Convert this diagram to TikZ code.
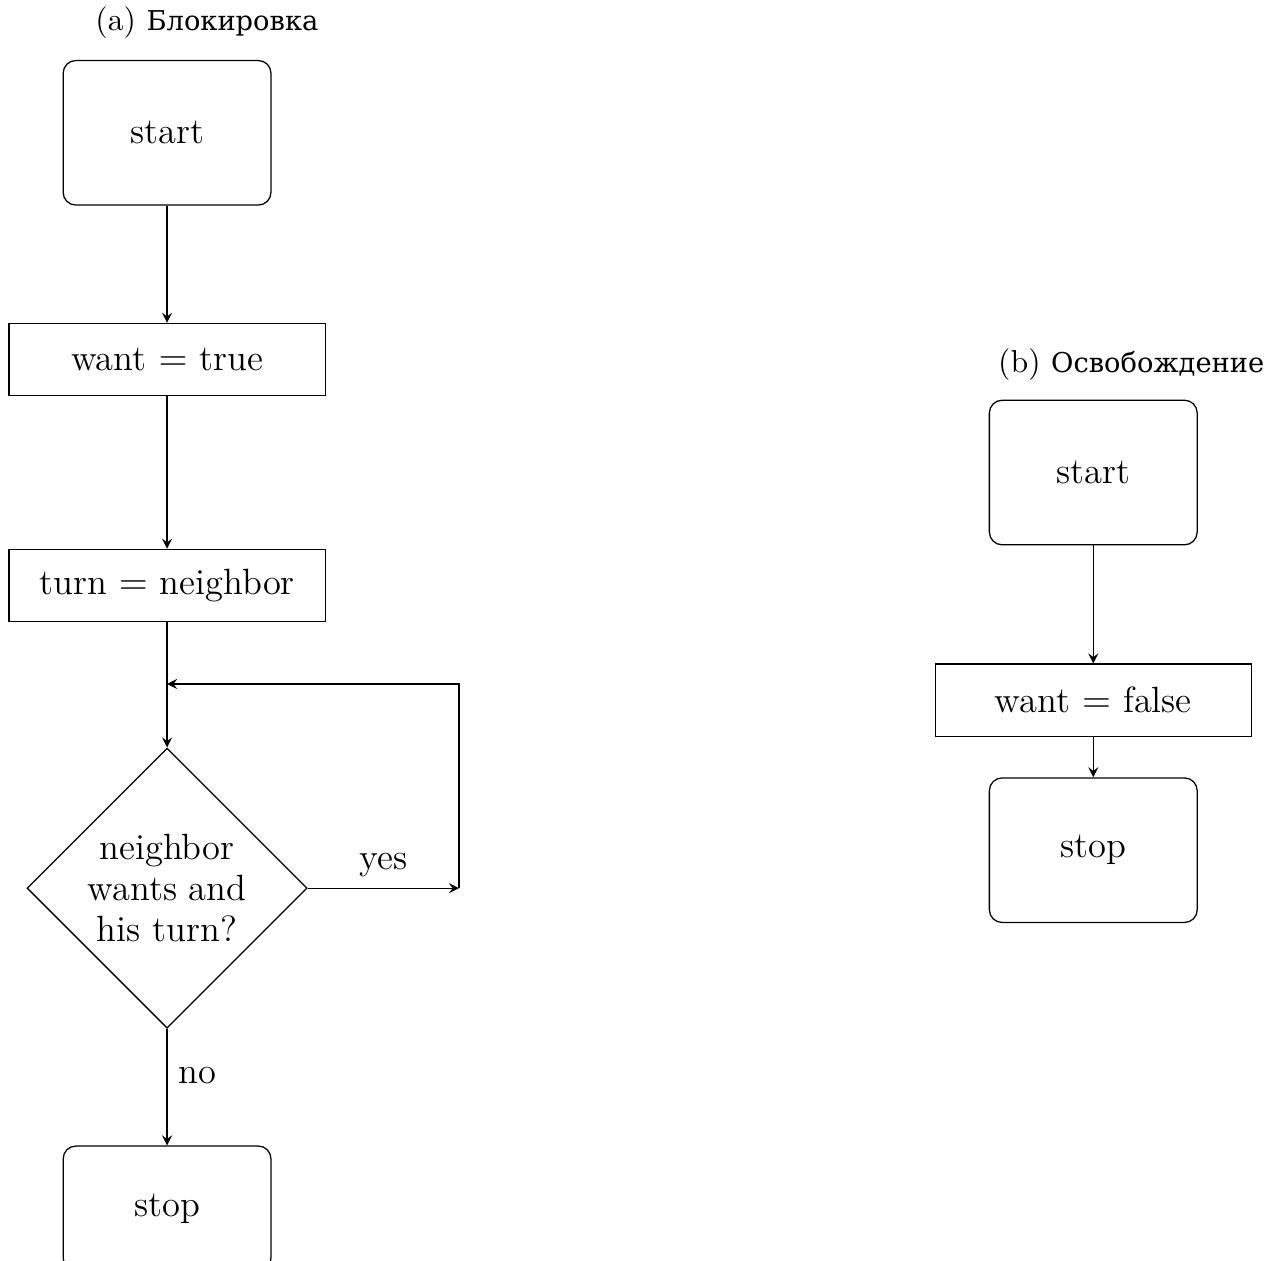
\documentclass[tikz,border=0pt]{standalone}
\usepackage{fontspec}
\newfontfamily\cyrfont{DejaVu Serif}
\usetikzlibrary{shapes.geometric, arrows}
\usetikzlibrary{calc}

\tikzset{
  startstop/.style={rectangle, rounded corners, draw=black, minimum width=2.3cm, minimum height=1.6cm, font=\fontsize{11.5}{13}\selectfont},
  process/.style={rectangle, draw=black, minimum width=3.5cm, minimum height=0.8cm, font=\fontsize{11.5}{13}\selectfont},
  decision/.style={diamond, draw=black, aspect=1, minimum size=3.1cm, inner sep=0pt, align=center, font=\fontsize{11.5}{13}\selectfont},
  arrow/.style={->, >=stealth}
}

\begin{document}
\begin{tikzpicture}
      \useasboundingbox (0,0) rectangle (14.10,13.95);

      % (a) locking
      \node (capa) at (2.29,13.70) {(a) {\cyrfont\fontsize{8.6}{10}\selectfont Блокировка}};
      \node[startstop] (starta) at (1.849,12.48) {start};
      \node[process] (wanta) at (1.849,9.97) {want $=$ true};
      \node[process] (turna) at (1.849,7.47) {turn $=$ neighbor};
      \node[decision] (deca) at (1.849,4.12) {neighbor\\wants and\\his turn?};
      \node[startstop, anchor=north, minimum height=1.38cm] (stopa) at (1.849,1.273) {stop};
      \coordinate (loopr) at (5.08,4.12);
      \coordinate (loopt) at (1.849,6.38);

      \draw[arrow] (starta) -- (wanta);
      \draw[arrow] (wanta) -- (turna);
      \draw[arrow] (turna) -- (deca);
      \draw[arrow] (deca) -- node[above, font=\fontsize{11.5}{13}\selectfont] {yes} (loopr);
      \draw[arrow] (loopr) |- (loopt);
      \draw[arrow] (deca) -- node[right, pos=0.4, font=\fontsize{11.5}{13}\selectfont] {no} (stopa);

      % (b) release
      \node (capb) at (12.52,9.92) {(b) {\cyrfont\fontsize{8.6}{10}\selectfont Освобождение}};
      \node[startstop] (startb) at (12.10,8.72) {start};
      \node[process] (wantb) at (12.10,6.20) {want $=$ false};
      \node[startstop] (stopb) at (12.10,4.54) {stop};

      \draw[arrow] (startb) -- (wantb);
      \draw[arrow] (wantb) -- (stopb);
\end{tikzpicture}
\end{document}
